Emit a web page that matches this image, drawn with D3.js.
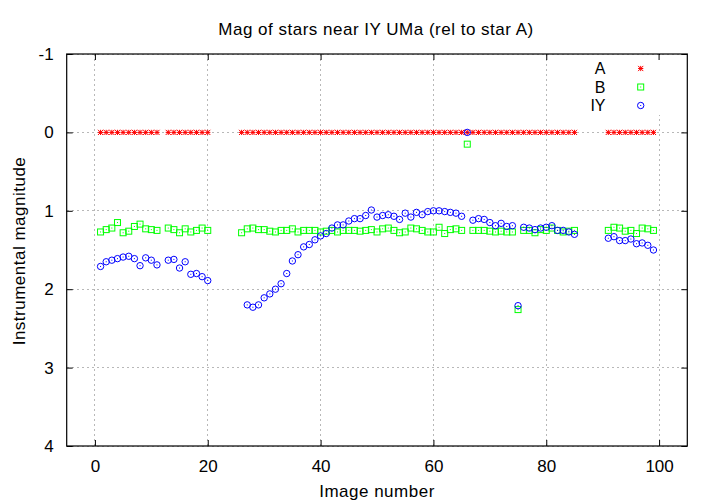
<!DOCTYPE html>
<html>
<head>
<meta charset="utf-8">
<script src="https://cdn.jsdelivr.net/npm/d3@7"></script>
<style>
  html, body { margin: 0; padding: 0; background: #fff; }
  svg { display: block; }
  text { font-family: "Liberation Sans", Arial, Helvetica, sans-serif; fill: #000; }
</style>
</head>
<body>
<svg id="chart" width="720" height="504"></svg>
<script>
const chartTitle = "Mag of stars near IY UMa (rel to star A)";
const xLabel = "Image number";
const yLabel = "Instrumental magnitude";
const seriesNames = ["A", "B", "IY"];
const xTicks = [0, 20, 40, 60, 80, 100];
const yTicks = [-1, 0, 1, 2, 3, 4];

const imageNo = [
  1,2,3,4,5,6,7,8,9,10,11,
  13,14,15,16,17,18,19,20,
  26,27,28,29,30,31,32,33,34,35,36,37,38,39,40,41,42,43,44,45,46,47,48,49,50,
  51,52,53,54,55,56,57,58,59,60,61,62,63,64,65,66,67,68,69,70,71,72,73,74,75,
  76,77,78,79,80,81,82,83,84,85,
  91,92,93,94,95,96,97,98,99
];
const magA = [
  0,0,0,0,0,0,0,0,0,0,0,
  0,0,0,0,0,0,0,0,
  0,0,0,0,0,0,0,0,0,0,0,0,0,0,0,0,0,0,0,0,0,0,0,0,0,
  0,0,0,0,0,0,0,0,0,0,0,0,0,0,0,0,0,0,0,0,0,0,0,0,0,
  0,0,0,0,0,0,0,0,0,0,
  0,0,0,0,0,0,0,0,0
];
const magB = [
  1.27,1.24,1.22,1.15,1.28,1.26,1.20,1.17,1.23,1.24,1.25,
  1.22,1.24,1.28,1.23,1.27,1.25,1.22,1.25,
  1.28,1.23,1.22,1.24,1.24,1.26,1.27,1.25,1.25,1.23,1.27,1.25,1.25,1.25,1.27,1.26,1.25,1.27,1.25,1.25,1.25,1.26,1.25,1.24,1.27,
  1.23,1.22,1.25,1.28,1.27,1.22,1.23,1.25,1.27,1.27,1.21,1.29,1.24,1.23,1.25,0.15,1.25,1.25,1.25,1.26,1.27,1.26,1.27,1.27,2.26,
  1.25,1.25,1.28,1.24,1.25,1.22,1.25,1.27,1.26,1.25,
  1.25,1.21,1.22,1.26,1.25,1.29,1.22,1.23,1.25
];
const magIY = [
  1.71,1.65,1.63,1.61,1.59,1.58,1.61,1.70,1.60,1.63,1.69,
  1.63,1.62,1.73,1.65,1.81,1.80,1.84,1.89,
  null,2.20,2.23,2.20,2.11,2.06,2.00,1.93,1.80,1.64,1.56,1.46,1.43,1.37,1.32,1.29,1.22,1.18,1.18,1.13,1.10,1.10,1.06,0.99,1.08,
  1.06,1.05,1.07,1.11,1.03,1.08,1.02,1.05,1.01,1.00,1.00,1.01,1.02,1.03,1.07,0.00,1.12,1.10,1.11,1.15,1.19,1.16,1.20,1.19,2.21,
  1.21,1.22,1.24,1.22,1.21,1.19,1.25,1.25,1.27,1.30,
  1.35,1.33,1.38,1.38,1.36,1.42,1.41,1.44,1.50
];

const pL = 66.7, pR = 687.3, pT = 54, pB = 446;
const FS = 17;
const LS = 0.5;

const svg = d3.select("#chart");
const x = d3.scaleLinear().domain([-5, 105]).range([pL, pR]);
const y = d3.scaleLinear().domain([-1, 4]).range([pT, pB]);

const gridColor = "#b8b8b8";
const grid = svg.append("g");
xTicks.forEach(t => {
  grid.append("line")
    .attr("x1", x(t)).attr("x2", x(t))
    .attr("y1", pT).attr("y2", pB)
    .attr("stroke", gridColor).attr("stroke-width", 1)
    .attr("stroke-dasharray", "2,3")
    .attr("shape-rendering", "crispEdges");
});
yTicks.forEach(t => {
  grid.append("line")
    .attr("x1", pL).attr("x2", pR)
    .attr("y1", y(t)).attr("y2", y(t))
    .attr("stroke", gridColor).attr("stroke-width", 1)
    .attr("stroke-dasharray", "2,3")
    .attr("shape-rendering", "crispEdges");
});

const tickLen = 6;
const fmt = d => String(d);
const axB = d3.axisBottom(x).tickValues(xTicks).tickSize(-tickLen).tickPadding(14).tickFormat(fmt);
const axT = d3.axisTop(x).tickValues(xTicks).tickSize(-tickLen).tickFormat("");
const axL = d3.axisLeft(y).tickValues(yTicks).tickSize(-tickLen).tickPadding(13).tickFormat(fmt);
const axR = d3.axisRight(y).tickValues(yTicks).tickSize(-tickLen).tickFormat("");

function styleAxis(g) {
  g.select(".domain").remove();
  g.selectAll(".tick line").attr("stroke", "#000").attr("stroke-width", 1);
  g.selectAll(".tick text").attr("font-size", FS).attr("font-family", "Liberation Sans, Arial, sans-serif").attr("fill", "#000");
}
svg.append("g").attr("transform", `translate(0,${pB})`).call(axB).call(styleAxis);
svg.append("g").attr("transform", `translate(0,${pT})`).call(axT).call(styleAxis);
svg.append("g").attr("transform", `translate(${pL},0)`).call(axL).call(styleAxis);
svg.append("g").attr("transform", `translate(${pR},0)`).call(axR).call(styleAxis);

// legend background box (opaque)
const legX0 = 565, legX1 = 686, legY0 = 55, legY1 = 115;
svg.append("rect").attr("x", legX0).attr("y", legY0)
  .attr("width", legX1 - legX0).attr("height", legY1 - legY0)
  .attr("fill", "#fff");
svg.append("line").attr("x1", x(100)).attr("x2", x(100)).attr("y1", pT).attr("y2", pT + tickLen)
  .attr("stroke", "#000");

svg.append("rect").attr("x", pL).attr("y", pT)
  .attr("width", pR - pL).attr("height", pB - pT)
  .attr("fill", "none").attr("stroke", "#000").attr("stroke-width", 1.2);

const colA = "#ff0000", colB = "#00ff00", colIY = "#0000ff";
function starMark(g, cx, cy) {
  const s = 2.6;
  g.append("path")
    .attr("d", `M${cx - s},${cy}H${cx + s}M${cx},${cy - s}V${cy + s}M${cx - s},${cy - s}L${cx + s},${cy + s}M${cx - s},${cy + s}L${cx + s},${cy - s}`)
    .attr("stroke", colA).attr("stroke-width", 1).attr("fill", "none");
}
function squareMark(g, cx, cy) {
  const s = 3;
  g.append("rect").attr("x", cx - s).attr("y", cy - s).attr("width", 2 * s).attr("height", 2 * s)
    .attr("fill", "none").attr("stroke", colB).attr("stroke-width", 1);
  g.append("rect").attr("x", cx - 0.5).attr("y", cy - 0.5).attr("width", 1).attr("height", 1)
    .attr("fill", colB);
}
function circleMark(g, cx, cy) {
  g.append("circle").attr("cx", cx).attr("cy", cy).attr("r", 3.2)
    .attr("fill", "none").attr("stroke", colIY).attr("stroke-width", 1);
  g.append("rect").attr("x", cx - 0.5).attr("y", cy - 0.5).attr("width", 1).attr("height", 1)
    .attr("fill", colIY);
}

const gA = svg.append("g"), gB = svg.append("g"), gIY = svg.append("g");
imageNo.forEach((n, i) => { if (magA[i] != null) starMark(gA, x(n), y(magA[i])); });
imageNo.forEach((n, i) => { if (magB[i] != null) squareMark(gB, x(n), y(magB[i])); });
imageNo.forEach((n, i) => { if (magIY[i] != null) circleMark(gIY, x(n), y(magIY[i])); });

const legTextX = 605.5, legSymX = 640.7;
const legRows = [68.5, 87, 105.5];
const legFns = [starMark, squareMark, circleMark];
const leg = svg.append("g");
seriesNames.forEach((name, i) => {
  leg.append("text").attr("x", legTextX).attr("y", legRows[i])
    .attr("dy", "0.36em").attr("text-anchor", "end").attr("font-size", 16).text(name);
  legFns[i](leg, legSymX, legRows[i]);
});

svg.append("text").attr("x", 376).attr("y", 35).attr("text-anchor", "middle")
  .attr("font-size", FS).attr("letter-spacing", LS).text(chartTitle);
svg.append("text").attr("x", 377).attr("y", 497).attr("text-anchor", "middle")
  .attr("font-size", FS).attr("letter-spacing", LS).text(xLabel);
svg.append("text").attr("transform", `translate(25,251) rotate(-90)`).attr("text-anchor", "middle")
  .attr("font-size", FS).attr("letter-spacing", LS).text(yLabel);
</script>
</body>
</html>
